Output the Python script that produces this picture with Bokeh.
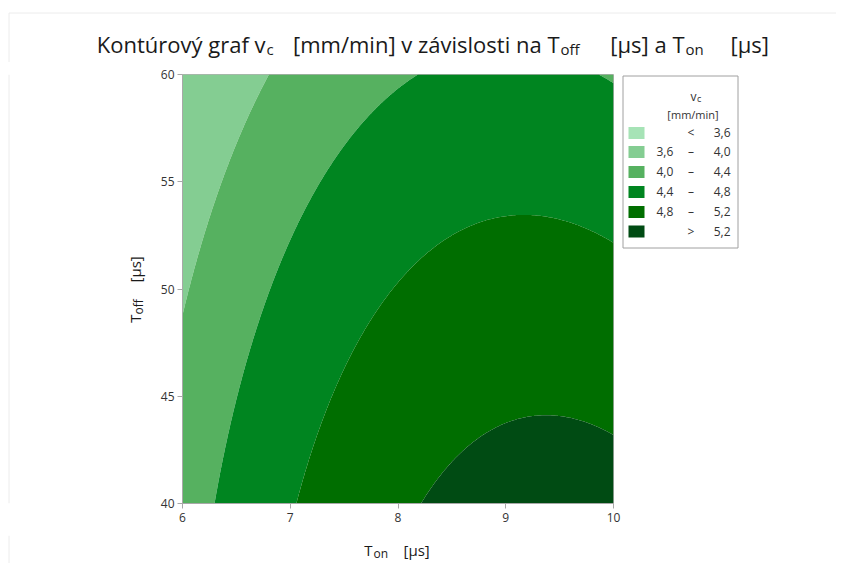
import numpy as np
from bokeh.plotting import figure
from bokeh.layouts import column, row
from bokeh.models import Range1d, FixedTicker
from bokeh.core.properties import value
from bokeh.embed import file_html
from bokeh.resources import INLINE

# ---------------- data ----------------
ton_ticks = [6, 7, 8, 9, 10]
toff_ticks = [40, 45, 50, 55, 60]
ton_range = (6, 10)
toff_range = (40, 60)

# fitted quadratic response surface for vc [mm/min] (coded units:
# u = Ton - 8, w = (Toff - 50) / 10)
b0 = 4.812
b_ton = 0.2352
b_toff = -0.389
b_ton2 = -0.0945
b_toff2 = -0.0557
b_ton_toff = -0.0416

levels = [3.0, 3.6, 4.0, 4.4, 4.8, 5.2, 5.8]
level_colors = ["#a6e3b6", "#84cd92", "#56b160", "#008520", "#006e00", "#004b13"]
legend_left = ["", "3,6", "4,0", "4,4", "4,8", ""]
legend_mid = ["<", "\u2013", "\u2013", "\u2013", "\u2013", ">"]
legend_right = ["3,6", "4,0", "4,4", "4,8", "5,2", "5,2"]

# ---------------- layout geometry (page pixels) ----------------
CW, CH = 836, 563
TOP_H = 62                 # title strip
LEFT_W = 152               # y-title strip
MB_L, MB_R, MB_T, MB_B = 30, 8, 12, 32
FW, FH = 431, 429
FRAME_T = TOP_H + MB_T     # page y of frame top
MAIN_W = MB_L + FW + MB_R
ROW_H = MB_T + FH + MB_B
RIGHT_W = CW - LEFT_W - MAIN_W
BOT_H = CH - TOP_H - ROW_H
FONT = "Open Sans"
FAINT = "#ececec"
BL = 5                     # baseline correction of the svg text renderer


def deco(x0, y0, w, h, fy0=None, fh=None):
    # fy0/fh: page extent of the drawable frame (row members share the main frame)
    fy0 = y0 if fy0 is None else fy0
    fh = h if fh is None else fh
    f = figure(width=w, height=h, x_range=Range1d(x0, x0 + w),
               y_range=Range1d(-(fy0 + fh), -fy0), min_border=0,
               x_axis_location=None, y_axis_location=None,
               output_backend="svg", toolbar_location=None)
    f.grid.visible = False
    f.outline_line_color = None
    return f


def txt(f, s, x, y, size, align="left", angle=0.0, color="#1a1a1a"):
    if angle:
        x = x - BL
    else:
        y = y - BL
    f.text(x=[x], y=[-y], text=[s], text_font=value(FONT),
           text_font_size=value(size), text_align=value(align),
           text_baseline=value("alphabetic"), angle=angle, text_color=color)


# ---------------- main contour figure ----------------
p = figure(frame_width=FW, frame_height=FH,
           min_border_left=MB_L, min_border_top=MB_T,
           min_border_right=MB_R, min_border_bottom=MB_B,
           x_range=Range1d(*ton_range), y_range=Range1d(*toff_range),
           output_backend="svg", toolbar_location=None)

xs = np.linspace(ton_range[0], ton_range[1], 241)
ys = np.linspace(toff_range[0], toff_range[1], 241)
X, Y = np.meshgrid(xs, ys)
U = X - 8.0
W = (Y - 50.0) / 10.0
Z = (b0 + b_ton * U + b_toff * W + b_ton2 * U ** 2 + b_toff2 * W ** 2
     + b_ton_toff * U * W)
p.contour(xs, ys, Z, levels, fill_color=level_colors, line_color=None)

p.grid.visible = False
p.outline_line_color = "#b0b0b0"
for ax, ticks in ((p.xaxis, ton_ticks), (p.yaxis, toff_ticks)):
    ax.ticker = FixedTicker(ticks=ticks)
    ax.axis_line_color = "#a8a8a8"
    ax.major_tick_line_color = "#a8a8a8"
    ax.major_tick_out = 5
    ax.major_tick_in = 0
    ax.minor_tick_line_color = None
    ax.major_label_text_font = FONT
    ax.major_label_text_font_size = "12px"
    ax.major_label_text_color = "#333333"
    ax.major_label_standoff = 4
p.yaxis.major_label_standoff = 3

# ---------------- title strip ----------------
top = deco(0, 0, CW, TOP_H)
top.segment(x0=[8.5, 8.5], y0=[-12.5, -12.5], x1=[CW, 8.5], y1=[-12.5, -TOP_H],
            line_color=FAINT, line_width=1)
TB = 48
txt(top, "Kontúrový graf v", 265, TB, "22px", "right")
txt(top, "c", 266, TB + 5, "15px")
txt(top, "[mm/min] v závislosti na T", 559, TB, "22px", "right")
txt(top, "off", 560, TB + 5, "15px")
txt(top, "[µs] a T", 684, TB, "22px", "right")
txt(top, "on", 685, TB + 5, "15px")
txt(top, "[µs]", 730, TB, "22px")

# ---------------- y title strip ----------------
left = deco(0, TOP_H, LEFT_W, ROW_H, FRAME_T, FH)
left.segment(x0=[8.5], y0=[-FRAME_T], x1=[8.5], y1=[-(FRAME_T + FH)],
             line_color=FAINT, line_width=1)
txt(left, "T", 139, 314, "15px", "right", np.pi / 2)
txt(left, "off", 143, 314, "12px", "left", np.pi / 2)
txt(left, "[µs]", 139, 282, "15px", "left", np.pi / 2)

# ---------------- legend strip ----------------
X0R = LEFT_W + MAIN_W
right = deco(X0R, TOP_H, RIGHT_W, ROW_H, FRAME_T, FH)
right.quad(left=[622.5], right=[737.5], top=[-75.5], bottom=[-247.5],
           fill_color=None, line_color="#a0a0a0", line_width=1)
txt(right, "v", 696, 101, "12px", "right", color="#333333")
txt(right, "c", 696.5, 103, "9px", color="#333333")
txt(right, "[mm/min]", 692.5, 119, "11px", "center", color="#333333")
row_y = [132.5, 151.5, 171.5, 191.5, 211.5, 231.0]
right.quad(left=[628] * 6, right=[644] * 6,
           top=[-(c - 6) for c in row_y], bottom=[-(c + 6) for c in row_y],
           fill_color=level_colors, line_color=None)
for i, cy in enumerate(row_y):
    if legend_left[i]:
        txt(right, legend_left[i], 656, cy + 4.5, "12px", color="#333333")
    txt(right, legend_mid[i], 690.5, cy + 4.5, "12px", "center", color="#333333")
    txt(right, legend_right[i], 730, cy + 4.5, "12px", "right", color="#333333")

# ---------------- x title strip ----------------
Y0B = TOP_H + ROW_H
bot = deco(0, Y0B, CW, BOT_H)
bot.segment(x0=[8.5], y0=[-Y0B], x1=[8.5], y1=[-CH], line_color=FAINT, line_width=1)
txt(bot, "T", 372, 554, "15px", "right")
txt(bot, "on", 373, 558, "12px")
txt(bot, "[µs]", 403, 554, "15px")

layout = column(top, row(left, p, right), bot)
open("out.html", "w").write(file_html(layout, INLINE))
